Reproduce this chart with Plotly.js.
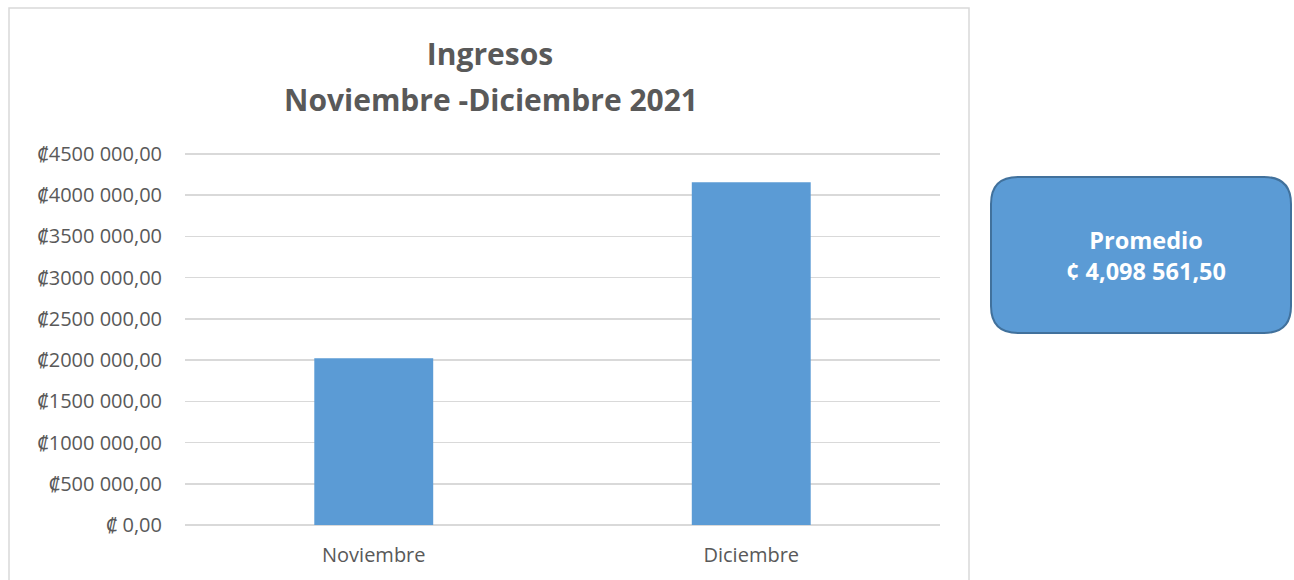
<!DOCTYPE html>
<html>
<head>
<meta charset="utf-8">
<script src="https://cdn.plot.ly/plotly-3.0.1.min.js"></script>
<style>html,body{margin:0;padding:0;background:#fff;}#chart{width:1294px;height:580px;}</style>
</head>
<body>
<div id="chart"></div>
<script>
// ---- data ----
const months = ["Noviembre", "Diciembre"];
const ingresos = [2022000, 4157000];
const tickVals = [0, 500000, 1000000, 1500000, 2000000, 2500000, 3000000, 3500000, 4000000, 4500000];
const tickText = ["\u20A1 0,00", "\u20A1500 000,00", "\u20A11000 000,00", "\u20A11500 000,00", "\u20A12000 000,00",
                  "\u20A12500 000,00", "\u20A13000 000,00", "\u20A13500 000,00", "\u20A14000 000,00", "\u20A14500 000,00"];
const titleLine1 = "Ingresos";
const titleLine2 = "Noviembre -Diciembre 2021";
const promedioLabel = "Promedio";
const promedioValue = "\u00A2 4,098 561,50";

// ---- layout geometry (pixels) ----
const W = 1294, H = 580;
const L = 185, R = 940, T = 152, B = 525;
const pw = R - L, ph = B - T;
const px = x => (x - L) / pw;
const py = y => 1 - (y - T) / ph;
// top gridline (4 500 000) sits at y=154, two pixels inside the plot area
const yTop = 4500000 * (B - T) / (B - 154);

function roundedRect(x0, y0, x1, y1, r) {
  const rx = r / pw, ry = r / ph;
  const a = px(x0), b = px(x1), top = py(y0), bot = py(y1);
  return `M ${a + rx},${top} L ${b - rx},${top} Q ${b},${top} ${b},${top - ry} ` +
         `L ${b},${bot + ry} Q ${b},${bot} ${b - rx},${bot} ` +
         `L ${a + rx},${bot} Q ${a},${bot} ${a},${bot + ry} ` +
         `L ${a},${top - ry} Q ${a},${top} ${a + rx},${top} Z`;
}

const font = "Open Sans, Noto Sans, DejaVu Sans, sans-serif";
const grey = "#595959";

const trace = {
  type: "bar",
  x: months,
  y: ingresos,
  marker: { color: "#5B9BD5" },
  hoverinfo: "skip"
};

const layout = {
  width: W, height: H,
  margin: { l: L, r: W - R, t: T, b: H - B, pad: 0 },
  paper_bgcolor: "#ffffff",
  plot_bgcolor: "#ffffff",
  showlegend: false,
  bargap: 0.685,
  font: { family: font, color: grey },
  title: {
    text: "<b>" + titleLine1 + "</b>",
    font: { family: font, size: 30, color: grey },
    x: 490 / W, xanchor: "center", xref: "container",
    y: 1 - 54 / H, yanchor: "middle", yref: "container"
  },
  xaxis: {
    type: "category",
    range: [-0.5, 1.5],
    showgrid: false,
    showline: false,
    zeroline: false,
    ticks: "",
    tickfont: { family: font, size: 20, color: grey },
    ticklabelstandoff: 16
  },
  yaxis: {
    range: [0, yTop],
    tickvals: tickVals,
    ticktext: tickText,
    showgrid: true,
    gridcolor: "#d9d9d9",
    gridwidth: 1.5,
    zeroline: true,
    zerolinecolor: "#d9d9d9",
    zerolinewidth: 1.5,
    showline: false,
    ticks: "",
    ticklabelstandoff: 22,
    tickfont: { family: font, size: 20, color: grey }
  },
  shapes: [
    {
      type: "rect", xref: "paper", yref: "paper",
      x0: px(9), x1: px(969), y0: py(590), y1: py(8),
      line: { color: "#d9d9d9", width: 1.5 }, fillcolor: "rgba(0,0,0,0)", layer: "below"
    },
    {
      type: "path", xref: "paper", yref: "paper",
      path: roundedRect(991, 177, 1291, 333, 27),
      fillcolor: "#5B9BD5",
      line: { color: "#41719C", width: 2 }
    }
  ],
  annotations: [
    {
      text: "<b>" + titleLine2 + "</b>",
      xref: "paper", yref: "paper",
      x: px(491), y: py(100), xanchor: "center", yanchor: "middle",
      showarrow: false,
      font: { family: font, size: 30, color: grey }
    },
    {
      text: "<b>" + promedioLabel + "<br>" + promedioValue + "</b>",
      xref: "paper", yref: "paper",
      x: px(1146), y: py(255), xanchor: "center", yanchor: "middle",
      showarrow: false,
      font: { family: font, size: 23.5, color: "#ffffff" }
    }
  ]
};

Plotly.newPlot("chart", [trace], layout, { displayModeBar: false, staticPlot: true });
</script>
</body>
</html>
